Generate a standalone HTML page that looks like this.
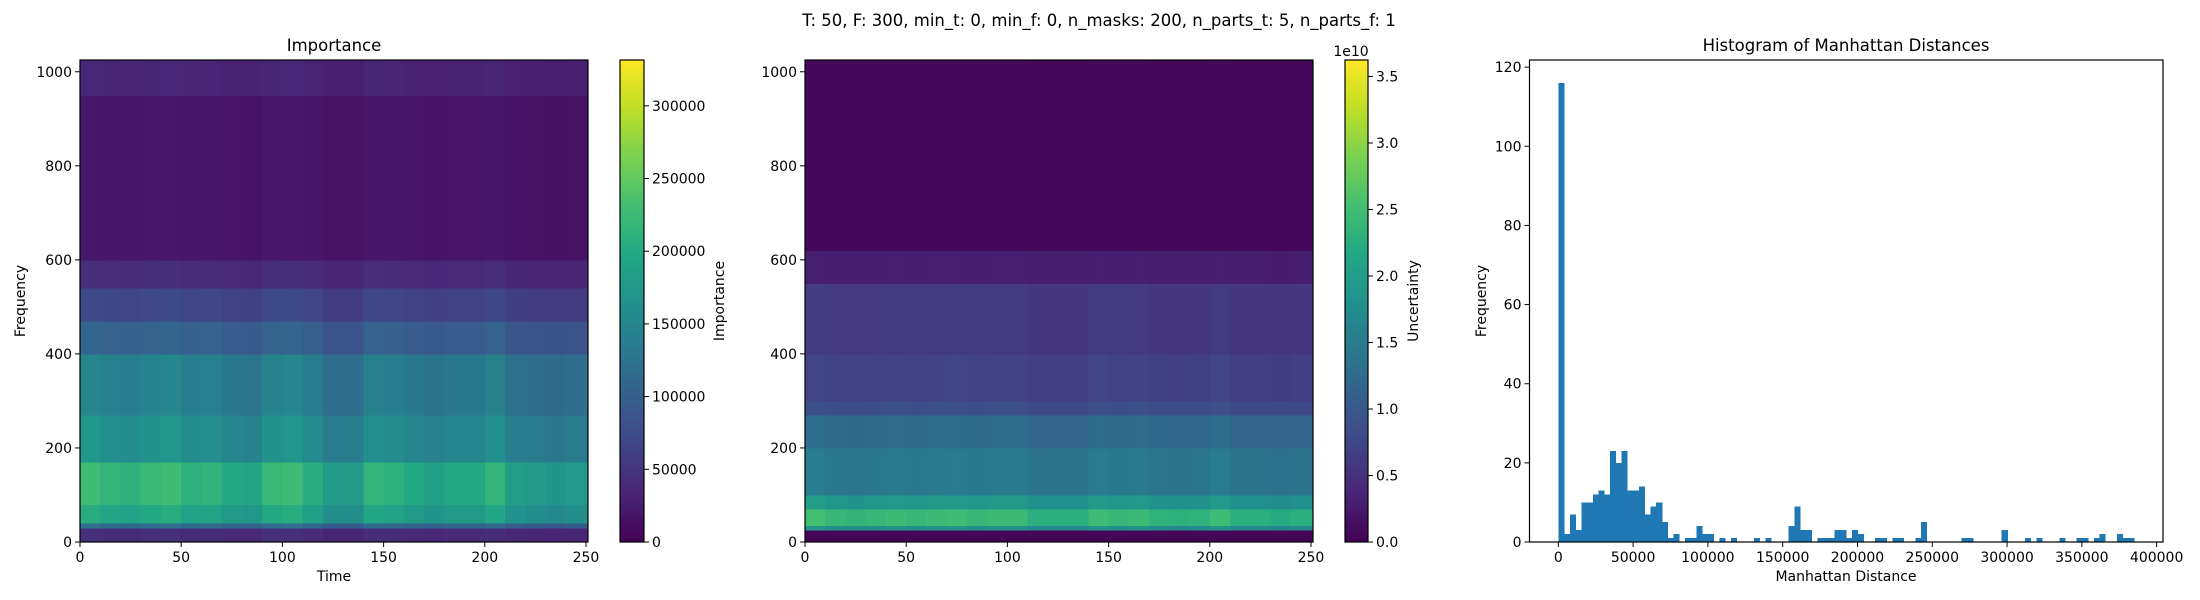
<!DOCTYPE html>
<html><head><meta charset="utf-8"><style>
html,body{margin:0;padding:0;background:#fff;}
svg{display:block;font-family:"DejaVu Sans","Liberation Sans",sans-serif;}
</style></head><body>
<svg id="fig" width="2200" height="600" viewBox="0 0 2200 600" xmlns="http://www.w3.org/2000/svg"></svg>
<script>
// ---------- data ----------
const suptitle = "T: 50, F: 300, min_t: 0, min_f: 0, n_masks: 200, n_parts_t: 5, n_parts_f: 1";
const impBandEdges = [0,30,40,80,170,270,400,470,540,600,950,1025];
const impBandValues = [42000,110000,190000,210000,160000,140000,100000,68000,40000,20000,34000];
const timeEdges = [0,10,20,30,40,50,60,70,80,90,100,110,120,130,140,150,160,170,180,190,200,210,220,230,240,250,251];
const impTimeFactor = [1.08,1.03,1.0,1.05,1.08,1.0,1.02,0.95,0.92,1.05,1.08,0.98,0.85,0.85,1.03,1.0,0.95,0.9,0.95,0.95,1.03,0.88,0.85,0.82,0.85,0.85];
const uncBandEdges = [0,25,35,70,100,200,270,300,400,550,620,1025];
const uncBandValues = [0.5e9,18e9,24e9,19e9,14.5e9,12.5e9,8.5e9,7e9,6e9,3e9,0.8e9];
const uncTimeFactor = [1.05,1.0,0.98,1.0,1.02,1.0,1.02,1.03,1.0,1.02,1.02,0.95,0.95,0.95,1.03,1.0,1.02,0.97,0.96,0.97,1.03,0.95,0.95,0.93,0.95,0.95];
const impMax = 331500, uncMax = 3.624e10;
const impCbTicks = [0,50000,100000,150000,200000,250000,300000];
const uncCbTicks = [0,0.5e10,1.0e10,1.5e10,2.0e10,2.5e10,3.0e10,3.5e10];
const uncCbLabels = ["0.0","0.5","1.0","1.5","2.0","2.5","3.0","3.5"];
const timeTicks = [0,50,100,150,200,250];
const freqTicks = [0,200,400,600,800,1000];
const histBinStart = 0, histBinWidth = 3850;
const histCounts = [116,2,7,3,10,10,12,13,12,23,20,23,13,13,14,7,9,10,5,1,2,0,1,1,4,2,2,0,1,0,1,0,0,0,1,0,1,0,0,0,4,9,3,3,0,1,1,1,3,3,1,3,2,0,0,1,1,0,1,1,0,0,1,5,0,0,0,0,0,0,1,1,0,0,0,0,0,3,0,0,0,1,0,1,0,0,0,1,0,0,1,1,0,1,2,0,0,2,1,1];
const histXTicks = [0,50000,100000,150000,200000,250000,300000,350000,400000];
const histYTicks = [0,20,40,60,80,100,120];

// ---------- helpers ----------
const NS="http://www.w3.org/2000/svg";
const fig=document.getElementById('fig');
function mk(tag,attrs,parent){const e=document.createElementNS(NS,tag);for(const k in attrs)e.setAttribute(k,attrs[k]);(parent||fig).appendChild(e);return e;}
function txt(s,x,y,attrs,parent){const e=mk('text',Object.assign({x:x,y:y,'font-size':14,fill:'#000'},attrs||{}),parent);e.textContent=s;return e;}
const vir=[[68,1,84],[72,36,117],[65,68,135],[53,95,141],[42,120,142],[33,145,140],[34,168,132],[68,191,112],[122,209,81],[189,223,38],[253,231,37]];
function viridis(t){t=Math.max(0,Math.min(1,t));const p=t*10,i=Math.min(9,Math.floor(p)),f=p-i;const a=vir[i],b=vir[i+1];return 'rgb('+a.map((v,k)=>Math.round(v+(b[k]-v)*f)).join(',')+')';}

const TOP=60,BOT=542;
let st=txt(suptitle,1099,26,{'text-anchor':'middle','font-size':16.5});



function heatmap(name,x0,x1,bandEdges,bandVals,tFactor,vmax){
  const g=mk('g',{});
  
  
  const sx=v=>x0+(v-0)/(251-0)*(x1-x0);
  const sy=v=>BOT-(v/1025)*(BOT-TOP);
  for(let b=0;b<bandVals.length;b++){
    for(let c=0;c<tFactor.length;c++){
      const X=sx(timeEdges[c]),X2=sx(timeEdges[c+1]),Y=sy(bandEdges[b+1]),Y2=sy(bandEdges[b]);
      const r=mk('rect',{x:X,y:Y,width:X2-X+0.5,height:Y2-Y+0.5,fill:viridis(bandVals[b]*tFactor[c]/vmax),'shape-rendering':'crispEdges'},g);
      
      
    }
  }
  mk('rect',{x:x0,y:TOP,width:x1-x0,height:BOT-TOP,fill:'none',stroke:'#000','stroke-width':1.2},g);
  timeTicks.forEach(t=>{const X=sx(t);mk('line',{x1:X,y1:BOT,x2:X,y2:BOT+5,stroke:'#000'},g);
    const l=txt(String(t),X,BOT+20,{'text-anchor':'middle'},g);
    
    });
  freqTicks.forEach(f=>{const Y=sy(f);mk('line',{x1:x0-5,y1:Y,x2:x0,y2:Y,stroke:'#000'},g);
    const l=txt(String(f),x0-8,Y+5,{'text-anchor':'end'},g);
    
    });
  return {sx,sy};
}
function colorbar(name,x0,x1,vmax,ticks,labels){
  const g=mk('g',{});
  
  
  const n=120,h=(BOT-TOP)/n;
  for(let i=0;i<n;i++){mk('rect',{x:x0,y:BOT-(i+1)*h,width:x1-x0,height:h+0.6,fill:viridis((i+0.5)/n),'shape-rendering':'crispEdges'},g);}
  mk('rect',{x:x0,y:TOP,width:x1-x0,height:BOT-TOP,fill:'none',stroke:'#000','stroke-width':1.2},g);
  ticks.forEach((t,i)=>{const Y=BOT-t/vmax*(BOT-TOP);mk('line',{x1:x1,y1:Y,x2:x1+5,y2:Y,stroke:'#000'},g);
    const l=txt(labels[i],x1+8,Y+5,{},g);
    
    });
  return g;
}

heatmap('importance-heatmap',80,588,impBandEdges,impBandValues,impTimeFactor,impMax);
let t1=txt('Importance',334,51,{'text-anchor':'middle','font-size':16.5});


let xl1=txt('Time',334,581,{'text-anchor':'middle'});


let yl1=txt('Frequency',0,0,{'text-anchor':'middle',transform:'translate(25,301) rotate(-90)'});


colorbar('importance-colorbar',620,644,impMax,impCbTicks,impCbTicks.map(String));
let cl1=txt('Importance',0,0,{'text-anchor':'middle',transform:'translate(724,301) rotate(-90)'});



heatmap('uncertainty-heatmap',805,1313,uncBandEdges,uncBandValues,uncTimeFactor,uncMax);
colorbar('uncertainty-colorbar',1345,1368,uncMax,uncCbTicks,uncCbLabels);
let e10=txt('1e10',1351,56,{'text-anchor':'middle'});


let cl2=txt('Uncertainty',0,0,{'text-anchor':'middle',transform:'translate(1418,301) rotate(-90)'});



const hx0=1529.5,hx1=2163,xmin=-19250,xmax=404250,ymax=121.8;
const hsx=v=>hx0+(v-xmin)/(xmax-xmin)*(hx1-hx0);
const hsy=v=>BOT-v/ymax*(BOT-TOP);
const hg=mk('g',{});


histCounts.forEach((c,i)=>{if(c<=0)return;const a=histBinStart+i*histBinWidth,b=a+histBinWidth;
  const r=mk('rect',{x:hsx(a),y:hsy(c),width:hsx(b)-hsx(a)+0.3,height:hsy(0)-hsy(c),fill:'#1f77b4','shape-rendering':'crispEdges'},hg);
  
  });
mk('rect',{x:hx0,y:TOP,width:hx1-hx0,height:BOT-TOP,fill:'none',stroke:'#000','stroke-width':1.2},hg);
histXTicks.forEach(t=>{const X=hsx(t);mk('line',{x1:X,y1:BOT,x2:X,y2:BOT+5,stroke:'#000'},hg);
  const l=txt(String(t),X,BOT+20,{'text-anchor':'middle'},hg);
  
  });
histYTicks.forEach(t=>{const Y=hsy(t);mk('line',{x1:hx0-5,y1:Y,x2:hx0,y2:Y,stroke:'#000'},hg);
  const l=txt(String(t),hx0-8,Y+5,{'text-anchor':'end'},hg);
  
  });
let t3=txt('Histogram of Manhattan Distances',1846,51,{'text-anchor':'middle','font-size':16.5});


let xl3=txt('Manhattan Distance',1846,581,{'text-anchor':'middle'});


let yl3=txt('Frequency',0,0,{'text-anchor':'middle',transform:'translate(1486,301) rotate(-90)'});


</script>
</body></html>
